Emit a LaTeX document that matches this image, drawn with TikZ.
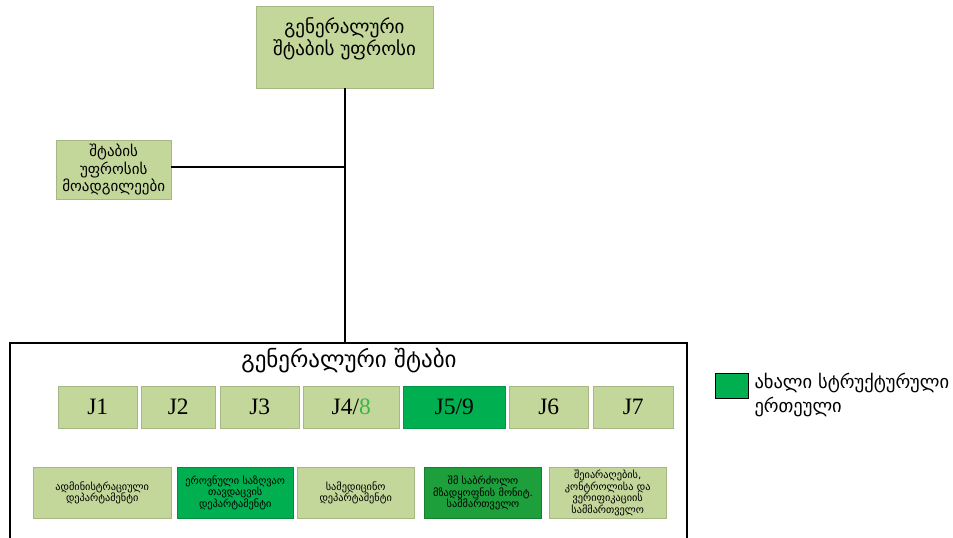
\documentclass[tikz,border=0pt]{standalone}
\usepackage{fontspec}
\setmainfont{Liberation Serif}
\newfontfamily\geo{DejaVu Sans}
\definecolor{lgreen}{HTML}{C4D79B}
\definecolor{bgreen}{HTML}{00B050}
\definecolor{dgreen}{HTML}{1DA03C}
\definecolor{dgborder}{HTML}{17802F}
\definecolor{eightgreen}{HTML}{3CB44B}
\tikzset{
  unitbox/.style={fill=lgreen, draw=lgreen!85!black, line width=0.4pt, inner sep=0pt, align=center},
  jbox/.style={unitbox, minimum height=42pt, font=\fontsize{23.5}{25}\selectfont},
  deptbox/.style={unitbox, minimum height=51pt, font=\geo\fontsize{10.3}{11.5}\selectfont},
  conn/.style={line width=2pt, draw=black},
}
\begin{document}
\begin{tikzpicture}[x=1pt,y=-1pt]
\useasboundingbox (0,0) rectangle (953,538);
\clip (0,0) rectangle (953,538);
% top
\node[unitbox, minimum width=177pt, minimum height=82pt, anchor=north west] (chief) at (256,6) {};
\node[font=\geo\fontsize{19}{18.5}\selectfont, align=center] (chiefText) at (344.5,39) {გენერალური\\შტაბის უფროსი};
\node[unitbox, minimum width=115pt, minimum height=59pt, anchor=north west, font=\geo\fontsize{15}{17.5}\selectfont] (deputy) at (56,140) {შტაბის\\უფროსის\\მოადგილეები};
\coordinate (frametop) at (345,343);
\coordinate (junc) at (345,167);
\draw[conn] (chief.south -| frametop) -- (frametop);
\draw[conn] (deputy.east |- junc) -- (junc);
% frame
\draw[line width=2pt] (10,550) -- (10,343) -- (687,343) -- (687,550);
\node[font=\geo\fontsize{23}{25}\selectfont] (staff) at (349,361) {გენერალური შტაბი};
% J boxes
\node[jbox, minimum width=79pt, anchor=north west] (J1) at (58,386) {J1};
\node[jbox, minimum width=74pt, anchor=north west] (J2) at (141,386) {J2};
\node[jbox, minimum width=79pt, anchor=north west] (J3) at (220,386) {J3};
\node[jbox, minimum width=96pt, anchor=north west] (J4) at (303,386) {J4/\textcolor{eightgreen}{8}};
\node[jbox, fill=bgreen, draw=bgreen!85!black, minimum width=102pt, anchor=north west] (J5) at (403,386) {J5/9};
\node[jbox, minimum width=79pt, anchor=north west] (J6) at (509,386) {J6};
\node[jbox, minimum width=80pt, anchor=north west] (J7) at (593,386) {J7};
% departments
\node[deptbox, minimum width=138pt, anchor=north west] (d1) at (33,467) {ადმინისტრაციული\\დეპარტამენტი};
\node[deptbox, fill=bgreen, draw=bgreen!80!black, minimum width=116pt, anchor=north west] (d2) at (177,467) {ეროვნული საზღვაო\\თავდაცვის\\დეპარტამენტი};
\node[deptbox, minimum width=117pt, anchor=north west] (d3) at (297,467) {სამედიცინო\\დეპარტამენტი};
\node[deptbox, fill=dgreen, draw=dgborder, line width=1pt, minimum width=117pt, anchor=north west] (d4) at (424,467) {შმ საბრძოლო\\მზადყოფნის მონიტ.\\სამმართველო};
\node[deptbox, minimum width=117pt, anchor=north west] (d5) at (549,467) {შეიარაღების,\\კონტროლისა და\\ვერიფიკაციის\\სამმართველო};
% legend
\node[fill=bgreen, draw=black, line width=0.8pt, minimum width=33pt, minimum height=25pt, inner sep=0pt, anchor=north west] (legbox) at (715,373) {};
\node[font=\geo\fontsize{18.5}{24}\selectfont, align=left, anchor=north west] (legtext) at (751,370) {ახალი სტრუქტურული\\ერთეული};
\end{tikzpicture}
\end{document}
